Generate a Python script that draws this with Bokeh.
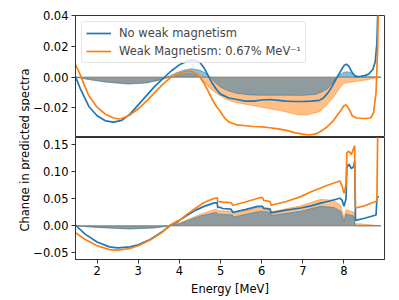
import numpy as np
from bokeh.plotting import figure
from bokeh.layouts import row, column
from bokeh.models import Range1d, FixedTicker, CustomJSTickFormatter, Label, Legend
from bokeh.embed import file_html
from bokeh.resources import INLINE

# ---------------- data ----------------
# top panel: lines
top_blue_E = [1.48, 1.6, 1.8, 2.0, 2.2, 2.4, 2.6, 2.8, 3.0, 3.2, 3.4, 3.6, 3.8, 4.0, 4.2, 4.35, 4.5,
              4.6, 4.7, 4.8, 4.9, 5.0, 5.2, 5.4, 5.6, 5.8, 6.0, 6.2, 6.4, 6.6, 6.8, 7.0, 7.2, 7.4, 7.5,
              7.6, 7.7, 7.8, 7.9, 8.0, 8.06, 8.12, 8.2, 8.28, 8.4, 8.5, 8.6, 8.7, 8.76, 8.8, 8.83]
top_blue_v = [0.0, -0.008, -0.019, -0.025, -0.0283, -0.0292, -0.028, -0.024, -0.018, -0.012, -0.006,
              -0.001, 0.004, 0.008, 0.0105, 0.011, 0.0095, 0.006, 0.001, -0.004, -0.008, -0.011, -0.0135,
              -0.0145, -0.0155, -0.0155, -0.0148, -0.0145, -0.015, -0.0155, -0.0158, -0.0158, -0.0156,
              -0.015, -0.0135, -0.0105, -0.0065, -0.0015, 0.003, 0.0075, 0.0084, 0.007, 0.003, 0.0003,
              0.0005, 0.001, 0.002, 0.005, 0.01, 0.022, 0.05]
top_orange_E = [1.48, 1.55, 1.6, 1.7, 1.8, 2.0, 2.2, 2.4, 2.5, 2.6, 2.8, 3.0, 3.2, 3.4, 3.6, 3.8, 4.0,
                4.15, 4.3, 4.4, 4.5, 4.6, 4.7, 4.8, 4.9, 5.0, 5.1, 5.2, 5.4, 5.6, 5.8, 6.0, 6.2, 6.4,
                6.6, 6.8, 7.0, 7.15, 7.3, 7.45, 7.6, 7.75, 7.9, 8.0, 8.05, 8.12, 8.2, 8.3, 8.5, 8.65,
                8.72, 8.78, 8.82, 8.86]
top_orange_v = [0.008, 0.004, 0.001, -0.006, -0.012, -0.0195, -0.024, -0.0265, -0.027, -0.0268,
                -0.0245, -0.0205, -0.0155, -0.01, -0.0045, 0.0, 0.0025, 0.0037, 0.0037, 0.0025, 0.0,
                -0.004, -0.009, -0.0145, -0.019, -0.0225, -0.0265, -0.029, -0.031, -0.0315, -0.032,
                -0.0322, -0.0328, -0.0335, -0.0345, -0.036, -0.037, -0.0375, -0.037, -0.035, -0.032,
                -0.028, -0.0225, -0.0185, -0.018, -0.0205, -0.025, -0.0265, -0.0268, -0.0265, -0.023,
                -0.01, 0.02, 0.1]
# top panel: uncertainty bands
top_bband_E = [1.48, 1.8, 2.2, 2.75, 3.2, 3.5, 3.7, 3.9, 4.1, 4.3, 4.5, 4.65, 4.75, 4.85, 5.0, 5.2,
               5.4, 5.7, 6.0, 6.5, 7.0, 7.3, 7.45, 7.6, 7.72, 7.8, 7.9, 8.0, 8.08, 8.16, 8.25, 8.35,
               8.6, 8.9]
top_bband_v = [0, -0.0015, -0.0032, -0.0045, -0.0038, -0.002, 0.0, 0.0025, 0.0045, 0.0055, 0.0045,
               0.0025, 0.0, -0.003, -0.0065, -0.009, -0.0105, -0.0115, -0.0117, -0.0117, -0.0118,
               -0.0112, -0.0098, -0.0075, -0.004, -0.001, 0.0015, 0.0032, 0.0035, 0.003, 0.0015,
               0.0004, 0.0003, 0]
top_oband_E = [1.48, 1.8, 2.2, 2.75, 3.2, 3.5, 3.8, 4.0, 4.2, 4.35, 4.5, 4.6, 4.7, 4.8, 4.9, 5.0,
               5.15, 5.3, 5.6, 6.1, 6.5, 6.9, 7.1, 7.4, 7.55, 7.75, 7.9, 8.0, 8.1, 8.24, 8.5, 8.72, 8.9]
top_oband_v = [0, -0.0015, -0.003, -0.0042, -0.0035, -0.002, 0.0, 0.0015, 0.0025, 0.0022, 0.0005,
               -0.003, -0.006, -0.0085, -0.0105, -0.012, -0.0145, -0.016, -0.0175, -0.020, -0.022,
               -0.0245, -0.0245, -0.0224, -0.019, -0.0127, -0.007, -0.004, -0.0035, -0.003, -0.002,
               -0.0008, 0]

# bottom panel: lines
bot_blue_E = [1.48, 1.7, 2.0, 2.3, 2.5, 2.8, 3.0, 3.3, 3.6, 3.8, 3.95, 4.0, 4.2, 4.4, 4.6, 4.85, 4.92,
              4.93, 5.0, 5.05, 5.25, 5.3, 5.6, 5.9, 6.02, 6.05, 6.2, 6.23, 6.6, 6.95, 7.2, 7.43, 7.6,
              7.9, 7.95, 8.0, 8.05, 8.07, 8.12, 8.18, 8.24, 8.26, 8.28, 8.5, 8.78, 8.8, 8.84]
bot_blue_v = [0.001, -0.015, -0.030, -0.039, -0.041, -0.039, -0.035, -0.025, -0.010, 0.002, 0.007,
              0.010, 0.020, 0.029, 0.036, 0.0425, 0.043, 0.034, 0.034, 0.032, 0.031, 0.025, 0.030,
              0.036, 0.036, 0.032, 0.031, 0.024, 0.029, 0.033, 0.037, 0.042, 0.045, 0.051, 0.048,
              0.036, 0.050, 0.108, 0.114, 0.106, 0.110, 0.120, 0.010, 0.014, 0.020, 0.050, 0.055]
bot_orange_E = [1.48, 1.7, 2.0, 2.3, 2.5, 2.8, 3.0, 3.3, 3.6, 3.75, 3.95, 4.0, 4.2, 4.4, 4.6, 4.85,
                4.92, 4.93, 5.05, 5.25, 5.3, 5.6, 5.95, 6.02, 6.05, 6.2, 6.23, 6.6, 6.95, 7.2, 7.43,
                7.6, 7.9, 7.95, 8.0, 8.05, 8.07, 8.12, 8.18, 8.24, 8.26, 8.28, 8.5, 8.8, 8.84]
bot_orange_v = [-0.013, -0.025, -0.037, -0.044, -0.045, -0.042, -0.037, -0.026, -0.011, 0.000, 0.009,
                0.010, 0.022, 0.033, 0.043, 0.051, 0.052, 0.045, 0.044, 0.043, 0.038, 0.044, 0.052,
                0.052, 0.047, 0.045, 0.038, 0.045, 0.054, 0.063, 0.070, 0.075, 0.083, 0.075, 0.060,
                0.075, 0.135, 0.138, 0.132, 0.145, 0.148, 0.033, 0.037, 0.046, 0.30]
# bottom panel: uncertainty bands
bot_bband_E = [1.48, 2.0, 2.8, 3.4, 3.75, 4.0, 4.5, 4.9, 4.93, 5.29, 5.3, 5.9, 6.0, 6.22, 6.23, 6.95,
               7.43, 7.76, 7.92, 8.0, 8.05, 8.24, 8.27, 8.9]
bot_bband_v = [0, -0.003, -0.006, -0.004, 0, 0.004, 0.018, 0.025, 0.022, 0.020, 0.016, 0.026, 0.027,
               0.025, 0.019, 0.027, 0.036, 0.034, 0.027, 0.008, 0.022, 0.018, 0.0, 0.0]
bot_oband_E = [1.48, 2.0, 2.8, 3.4, 3.75, 4.0, 4.5, 4.9, 4.93, 5.29, 5.3, 5.98, 6.22, 6.23, 6.95,
               7.43, 7.76, 7.92, 8.0, 8.05, 8.24, 8.27, 8.5, 8.75, 8.9]
bot_oband_v = [0, -0.003, -0.0055, -0.0035, 0, 0.005, 0.021, 0.031, 0.028, 0.027, 0.022, 0.036,
               0.032, 0.026, 0.037, 0.049, 0.047, 0.038, 0.015, 0.030, 0.025, 0.004, 0.003, 0.001, 0.0]

x_ticks = [2, 3, 4, 5, 6, 7, 8]
top_y_ticks = [-0.02, 0.0, 0.02, 0.04]
bot_y_ticks = [-0.05, 0.0, 0.05, 0.10, 0.15]

# ---------------- style ----------------
FONT = "DejaVu Sans"
FS = "11.5px"
BLUE = "#1f77b4"
ORANGE = "#ff7f0e"
SPINE = "#333333"

fmt = CustomJSTickFormatter(code="""
    const s = Math.abs(tick).toFixed(2);
    return (tick < -1e-12 ? "\\u2212" : "") + s;
""")

xr = Range1d(1.475, 8.985)


def style(p):
    p.outline_line_color = SPINE
    p.outline_line_width = 1
    p.xgrid.visible = False
    p.ygrid.visible = False
    for ax in p.xaxis + p.yaxis:
        ax.axis_line_color = SPINE
        ax.major_tick_line_color = SPINE
        ax.major_tick_out = 4
        ax.major_tick_in = 0
        ax.minor_tick_line_color = None
        ax.major_label_text_font = FONT
        ax.major_label_text_font_size = FS
        ax.major_label_text_color = "black"
        ax.axis_label_text_font = FONT
        ax.axis_label_text_font_size = FS
        ax.axis_label_text_font_style = "normal"
        ax.axis_label_text_color = "black"
        ax.major_label_standoff = 3


def bands(p, bE, bv, oE, ov):
    p.varea(x=oE, y1=[0] * len(oE), y2=ov, fill_color=ORANGE, fill_alpha=0.5)
    p.line(oE, ov, color=ORANGE, line_alpha=0.5, line_width=1)
    p.line(oE, [0] * len(oE), color=ORANGE, line_alpha=0.5, line_width=1)
    p.varea(x=bE, y1=[0] * len(bE), y2=bv, fill_color=BLUE, fill_alpha=0.5)
    p.line(bE, bv, color=BLUE, line_alpha=0.5, line_width=1)
    p.line(bE, [0] * len(bE), color=BLUE, line_alpha=0.5, line_width=1)


# ---------------- top panel ----------------
# frame extends 1px below the canvas so that its bottom edge is hidden and the
# bottom panel's top edge acts as the single shared spine
top = figure(width=369, height=137, x_range=xr, y_range=Range1d(-0.03914, 0.04),
             output_backend="svg", toolbar_location=None,
             min_border_left=44, min_border_right=15, min_border_top=15, min_border_bottom=-1)
top.xaxis.visible = False
top.yaxis.ticker = FixedTicker(ticks=top_y_ticks)
top.yaxis.formatter = fmt
style(top)
bands(top, top_bband_E, top_bband_v, top_oband_E, top_oband_v)
lb = top.line(top_blue_E, top_blue_v, color=BLUE, line_width=1.7)
lo = top.line(top_orange_E, top_orange_v, color=ORANGE, line_width=1.7)
legend = Legend(items=[("No weak magnetism", [lb]), ("Weak Magnetism: 0.67% MeV\u207b\u00b9", [lo])],
                location="top_left")
legend.label_text_font = FONT
legend.label_text_font_size = FS
legend.glyph_width = 25
legend.glyph_height = 14
legend.label_height = 14
legend.label_standoff = 8
legend.spacing = 4
legend.padding = 4
legend.margin = 6
legend.border_line_color = "#cccccc"
legend.border_line_width = 1
legend.background_fill_alpha = 0.8
try:
    legend.border_radius = 3
except Exception:
    pass
top.add_layout(legend)

# ---------------- bottom panel ----------------
bot = figure(width=369, height=163, x_range=xr, y_range=Range1d(-0.0624, 0.1635),
             output_backend="svg", toolbar_location=None,
             min_border_left=44, min_border_right=15, min_border_top=0, min_border_bottom=41)
bot.xaxis.ticker = FixedTicker(ticks=x_ticks)
bot.yaxis.ticker = FixedTicker(ticks=bot_y_ticks)
bot.yaxis.formatter = fmt
bot.xaxis.axis_label = "Energy [MeV]"
style(bot)
bot.xaxis.axis_label_standoff = 4
bot.xaxis.major_label_standoff = 2
bands(bot, bot_bband_E, bot_bband_v, bot_oband_E, bot_oband_v)
bot.line(bot_blue_E, bot_blue_v, color=BLUE, line_width=1.7)
bot.line(bot_orange_E, bot_orange_v, color=ORANGE, line_width=1.7)

# ---------------- shared y label ----------------
lab = figure(width=30, height=300, x_range=Range1d(0, 1), y_range=Range1d(0, 1),
             x_axis_type=None, y_axis_type=None, output_backend="svg", toolbar_location=None,
             min_border=0)
lab.outline_line_color = None
lab.xgrid.visible = False
lab.ygrid.visible = False
lab.add_layout(Label(x=24, y=150.5, x_units="screen", y_units="screen",
                     text="Change in predicted spectra", angle=np.pi / 2,
                     text_align="center", text_baseline="middle",
                     text_font=FONT, text_font_size=FS, text_color="black"))

layout = row(lab, column(top, bot))
open("out.html", "w").write(file_html(layout, INLINE))
